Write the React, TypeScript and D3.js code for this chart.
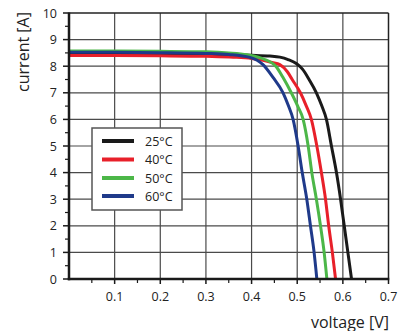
import React from "react";
import * as d3 from "d3";

const seriesNames = ["25°C", "40°C", "50°C", "60°C"];
const seriesColors = ["#1a1a1a", "#e8202a", "#4cb748", "#1f3a8a"];

const v25 = [0, 0.1, 0.2, 0.3, 0.4, 0.44, 0.462, 0.48, 0.498, 0.512, 0.526, 0.542, 0.554, 0.564, 0.575, 0.586, 0.595, 0.603, 0.611, 0.619];
const i25 = [8.46, 8.46, 8.45, 8.44, 8.41, 8.38, 8.34, 8.25, 8.1, 7.88, 7.5, 7.0, 6.5, 6.0, 5.0, 4.0, 3.0, 2.0, 1.0, 0];
const v40 = [0, 0.1, 0.2, 0.3, 0.36, 0.4, 0.425, 0.445, 0.462, 0.478, 0.489, 0.507, 0.52, 0.531, 0.543, 0.553, 0.562, 0.569, 0.577, 0.584];
const i40 = [8.4, 8.4, 8.39, 8.37, 8.34, 8.29, 8.22, 8.14, 8.06, 7.8, 7.5, 7.0, 6.5, 6.0, 5.0, 4.0, 3.0, 2.0, 1.0, 0];
const v50 = [0, 0.1, 0.2, 0.3, 0.35, 0.39, 0.425, 0.454, 0.468, 0.487, 0.501, 0.513, 0.524, 0.532, 0.542, 0.551, 0.559, 0.565];
const i50 = [8.57, 8.57, 8.56, 8.54, 8.5, 8.43, 8.28, 7.98, 7.6, 7.0, 6.5, 6.0, 5.0, 4.0, 3.0, 2.0, 1.0, 0];
const v60 = [0, 0.1, 0.2, 0.3, 0.35, 0.396, 0.425, 0.447, 0.469, 0.481, 0.491, 0.502, 0.511, 0.521, 0.529, 0.537, 0.543];
const i60 = [8.52, 8.52, 8.51, 8.48, 8.44, 8.33, 8.06, 7.58, 7.0, 6.5, 6.0, 5.0, 4.0, 3.0, 2.0, 1.0, 0];

const seriesV = [v25, v40, v50, v60];
const seriesI = [i25, i40, i50, i60];

const xTickLabels = ["0.1", "0.2", "0.3", "0.4", "0.5", "0.6", "0.7"];
const yTickLabels = ["0", "1", "2", "3", "4", "5", "6", "7", "8", "9", "10"];

export default function App() {
  const W = 401, H = 331;
  const left = 69, right = 388.5, top = 13, bottom = 279;
  const x = d3.scaleLinear().domain([0, 0.7]).range([left, right]);
  const y = d3.scaleLinear().domain([0, 10]).range([bottom, top]);
  const font = "'Open Sans', 'Noto Sans', sans-serif";

  const line = d3
    .line<[number, number]>()
    .x((d) => x(d[0]))
    .y((d) => y(d[1]))
    .curve(d3.curveMonotoneX);

  const xMajor = d3.range(1, 7).map((k) => k / 10);
  const xMinor = d3.range(0, 14).map((k) => 0.05 + k * 0.1).filter((v) => v < 0.7);
  const yMajor = d3.range(0, 11);
  const yMinor = d3.range(0, 10).map((k) => k + 0.5);

  const legX = 92, legY = 128, legW = 90, legH = 82;
  const rowY = [141, 159.5, 178, 196];

  return (
    <svg width={W} height={H} style={{ position: "absolute", left: 0, top: 0, background: "#fff" }}>
      <rect x={0} y={0} width={W} height={H} fill="#fff" />
      {xMajor.map((v) => (
        <line key={"gx" + v} x1={x(v)} x2={x(v)} y1={y(10)} y2={y(0)} stroke="#4a4a4a" strokeWidth={1.2} />
      ))}
      {d3.range(1, 10).map((v) => (
        <line key={"gy" + v} x1={x(0)} x2={x(0.7)} y1={y(v)} y2={y(v)} stroke="#4a4a4a" strokeWidth={1.2} />
      ))}
      <line x1={x(0)} x2={x(0.7)} y1={y(10)} y2={y(10)} stroke="#222" strokeWidth={1.5} />
      <line x1={x(0.7)} x2={x(0.7)} y1={y(10)} y2={y(0)} stroke="#222" strokeWidth={1.5} />
      {seriesV.map((vs, si) => (
        <path
          key={"s" + si}
          d={line(vs.map((v, k) => [v, seriesI[si][k]] as [number, number])) || ""}
          fill="none"
          stroke={seriesColors[si]}
          strokeWidth={3}
          strokeLinejoin="round"
        />
      ))}
      <line x1={x(0)} x2={x(0)} y1={y(10) - 0.5} y2={y(0) + 1.25} stroke="#1a1a1a" strokeWidth={2.5} />
      <line x1={x(0) - 1.25} x2={x(0.7) + 0.75} y1={y(0)} y2={y(0)} stroke="#1a1a1a" strokeWidth={2.5} />
      {yMajor.map((v) => (
        <line key={"yt" + v} x1={x(0) - 6} x2={x(0)} y1={y(v)} y2={y(v)} stroke="#1a1a1a" strokeWidth={1.5} />
      ))}
      {yMinor.map((v) => (
        <line key={"ym" + v} x1={x(0) - 4} x2={x(0)} y1={y(v)} y2={y(v)} stroke="#1a1a1a" strokeWidth={1.2} />
      ))}
      {[...xMajor, 0.7].map((v) => (
        <line key={"xt" + v} x1={x(v)} x2={x(v)} y1={y(0)} y2={y(0) + 5} stroke="#1a1a1a" strokeWidth={1.5} />
      ))}
      {xMinor.map((v) => (
        <line key={"xm" + v} x1={x(v)} x2={x(v)} y1={y(0)} y2={y(0) + 4} stroke="#1a1a1a" strokeWidth={1.2} />
      ))}
      {yTickLabels.map((t) => (
        <text key={"yl" + t} x={57} y={y(+t)} textAnchor="end" dominantBaseline="central" fontFamily={font} fontSize={12.5} fill="#222">
          {t}
        </text>
      ))}
      {xTickLabels.map((t) => (
        <text key={"xl" + t} x={x(+t)} y={296} textAnchor="middle" dominantBaseline="central" fontFamily={font} fontSize={12.5} fill="#222">
          {t}
        </text>
      ))}
      <text x={389} y={321.5} textAnchor="end" dominantBaseline="central" fontFamily={font} fontSize={16} fill="#222">
        voltage [V]
      </text>
      <text
        transform={`translate(22.5,52) rotate(-90)`}
        textAnchor="middle"
        dominantBaseline="central"
        fontFamily={font}
        fontSize={16}
        fill="#222"
      >
        current [A]
      </text>
      <rect x={legX} y={legY} width={legW} height={legH} fill="#fff" stroke="#555" strokeWidth={1.5} />
      {seriesNames.map((n, k) => (
        <g key={"lg" + k}>
          <line x1={102} x2={134} y1={rowY[k]} y2={rowY[k]} stroke={seriesColors[k]} strokeWidth={4} />
          <text x={145} y={rowY[k]} dominantBaseline="central" fontFamily={font} fontSize={12.5} fill="#222">
            {n}
          </text>
        </g>
      ))}
    </svg>
  );
}
